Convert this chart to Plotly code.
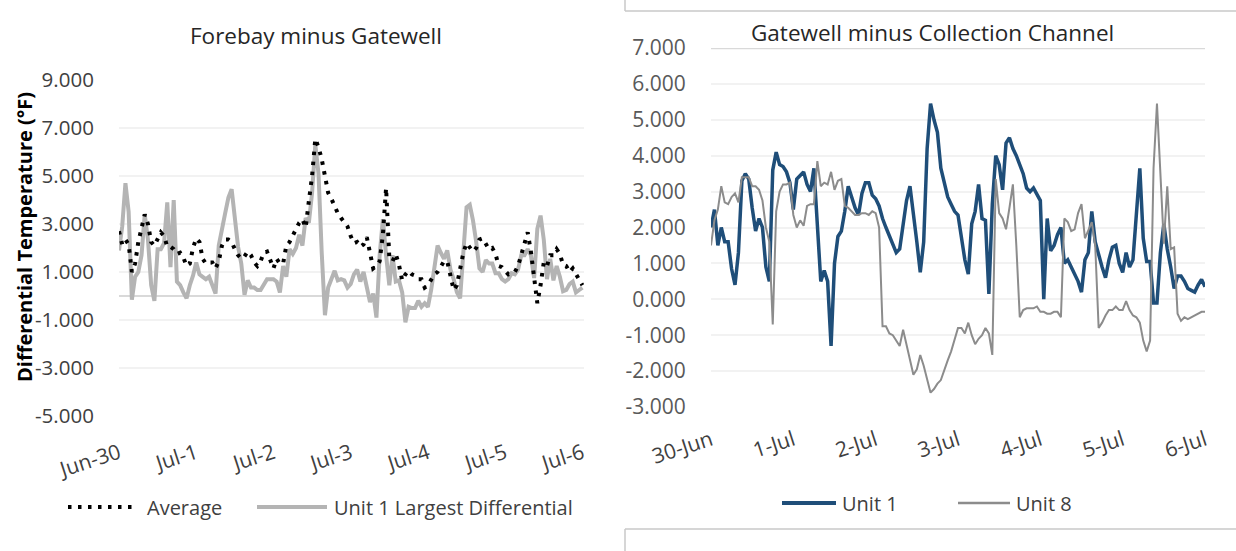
import pandas as pd
import plotly.graph_objects as go

# ---------------- data (hourly readings, 30-Jun 00:00 .. 6-Jul 00:00) ----------------
hours = pd.date_range("2019-06-30 00:00", periods=145, freq="h")

# Left chart: Forebay minus Gatewell
average = [2.7, 2.15, 2.35, 2.15, 1.0, 1.35, 2.25, 2.8, 3.4, 3.0,
           2.25, 2.1, 2.4, 2.65, 2.5, 2.05, 2.05, 1.95, 1.75, 1.8,
           1.6, 1.25, 1.35, 2.0, 2.4, 2.25, 1.55, 1.35, 1.4, 1.4,
           1.15, 1.45, 2.1, 2.35, 2.35, 2.25, 1.95, 1.7, 1.55, 1.65,
           1.85, 1.7, 1.4, 1.25, 1.45, 1.8, 1.85, 1.55, 1.15, 1.55,
           1.35, 1.35, 2.1, 2.25, 2.55, 2.8, 3.05, 3.2, 2.85, 3.95,
           5.0, 6.55, 6.2, 5.7, 4.9, 4.3, 4.05, 3.7, 3.45, 3.25,
           3.1, 2.9, 2.5, 2.2, 2.25, 2.05, 2.15, 2.45, 1.8, 1.15,
           1.25, 1.45, 2.55, 4.5, 1.6, 1.45, 1.75, 1.3, 0.65, 0.9,
           1.05, 0.9, 0.85, 0.7, 0.7, 0.35, 0.45, 0.65, 0.9, 1.0,
           1.25, 1.45, 1.45, 0.9, 0.25, 0.45, 1.15, 1.8, 2.2, 2.0,
           1.85, 2.0, 2.35, 2.4, 2.2, 1.95, 2.0, 1.75, 1.25, 1.2,
           1.05, 0.9, 0.95, 1.0, 1.25, 1.7, 2.25, 2.65, 1.85, 0.9,
           -0.3, 0.45, 1.4, 1.25, 1.7, 1.7, 1.95, 1.75, 1.3, 1.25,
           1.0, 1.15, 0.9, 0.7, 0.45]

unit1_largest = [1.9, 2.9, 4.7, 3.5, -0.15, 0.8, 1.0, 1.7, 3.4, 2.35,
                 0.45, -0.2, 1.95, 1.95, 2.2, 3.9, 1.2, 4.0, 0.6, 0.45,
                 0.15, -0.1, 0.45, 0.85, 1.4, 0.9, 0.8, 0.7, 0.8, 0.45,
                 0.1, 2.1, 2.9, 3.45, 4.1, 4.45, 3.25, 2.05, 1.35, 0.05,
                 0.65, 0.35, 0.35, 0.25, 0.25, 0.5, 0.7, 0.7, 0.7, 0.6,
                 0.15, 1.25, 0.8, 1.95, 1.75, 2.0, 2.55, 2.1, 3.25, 3.05,
                 4.3, 6.3, 5.1, 1.8, -0.8, 0.35, 0.65, 1.05, 0.65, 0.7,
                 0.65, 0.35, 0.5, 0.9, 1.1, 0.6, 1.0, 0.3, -0.25, 0.1,
                 -0.9, 1.7, 3.2, 1.7, 0.45, 1.7, 0.6, 0.65, 0.15, -1.1,
                 -0.45, -0.5, -0.5, -0.2, -0.45, -0.3, -0.45, 0.25, 1.2, 2.1,
                 1.8, 1.55, 1.9, 1.1, 0.7, 0.15, -0.1, 1.7, 3.7, 3.8,
                 3.15, 2.25, 1.15, 1.0, 1.5, 1.35, 1.35, 0.95, 0.95, 0.7,
                 0.6, 0.7, 0.95, 0.9, 1.1, 1.7, 1.7, 1.95, 1.7, 0.75,
                 2.8, 3.35, 2.35, 0.7, 1.55, 0.65, 1.25, 0.8, 0.2, 0.25,
                 0.5, 0.6, 0.15, 0.25, 0.35]

# Right chart: Gatewell minus Collection Channel
unit1 = [2.0, 2.5, 1.5, 2.0, 1.6, 1.6, 0.85, 0.4, 1.3, 3.3,
         3.5, 3.35, 2.55, 1.9, 2.25, 2.0, 0.9, 0.5, 3.6, 4.1,
         3.75, 3.7, 3.55, 3.25, 2.5, 3.35, 3.45, 3.55, 3.2, 3.0,
         3.65, 2.2, 0.5, 0.8, 0.5, -1.3, 1.0, 1.75, 1.9, 2.45,
         3.15, 2.85, 2.55, 2.35, 2.95, 3.25, 3.25, 2.9, 2.8, 2.6,
         2.25, 2.0, 1.75, 1.5, 1.3, 1.4, 2.0, 2.75, 3.15, 2.45,
         1.6, 0.75, 1.6, 4.2, 5.45, 5.0, 4.65, 3.65, 3.2, 2.85,
         2.65, 2.45, 2.35, 1.7, 1.1, 0.7, 2.1, 2.45, 3.2, 2.25,
         2.2, 0.15, 2.65, 4.0, 3.75, 3.05, 4.35, 4.5, 4.2, 4.0,
         3.75, 3.5, 3.1, 3.0, 3.1, 2.9, 2.75, 0.0, 2.25, 1.35,
         1.5, 1.8, 2.0, 1.0, 1.1, 0.9, 0.7, 0.5, 0.2, 1.1,
         1.3, 2.45, 1.6, 1.2, 0.9, 0.6, 1.1, 1.45, 1.5, 1.0,
         0.75, 1.3, 0.9, 1.1, 2.45, 3.65, 1.7, 1.05, 1.05, -0.1,
         -0.1, 1.3, 2.1, 1.4, 0.9, 0.3, 0.65, 0.65, 0.5, 0.3,
         0.25, 0.2, 0.4, 0.55, 0.35]

unit8 = [1.5, 2.2, 2.5, 3.15, 2.7, 2.65, 2.85, 2.95, 2.7, 3.4,
         3.4, 3.4, 3.15, 3.15, 3.05, 2.75, 2.0, 1.6, -0.7, 2.45,
         3.0, 3.2, 3.2, 3.25, 2.35, 2.0, 2.2, 2.05, 2.6, 2.65,
         2.65, 3.85, 3.15, 3.25, 3.2, 3.55, 3.05, 3.3, 3.35, 2.6,
         2.55, 2.45, 2.35, 2.35, 2.4, 2.4, 2.35, 2.45, 2.4, 2.0,
         -0.75, -0.75, -0.95, -1.0, -1.15, -1.3, -0.85, -1.3, -1.65, -2.1,
         -1.95, -1.55, -1.85, -2.2, -2.6, -2.5, -2.35, -2.25, -1.95, -1.7,
         -1.45, -1.1, -0.8, -0.8, -0.95, -0.65, -1.0, -1.25, -1.1, -1.0,
         -0.8, -0.95, -1.55, 3.35, 2.4, 2.25, 1.95, 2.55, 3.2, 1.5,
         -0.5, -0.3, -0.25, -0.25, -0.25, -0.2, -0.35, -0.35, -0.4, -0.4,
         -0.35, -0.35, -0.5, 2.25, 2.15, 1.9, 1.95, 2.4, 2.65, 1.7,
         1.95, 2.15, 1.5, -0.8, -0.65, -0.45, -0.3, -0.3, -0.2, -0.3,
         -0.3, -0.05, -0.3, -0.45, -0.5, -0.65, -1.15, -1.45, -1.15, 3.65,
         5.45, 3.65, 1.55, 3.15, 1.4, 1.45, -0.4, -0.6, -0.5, -0.55,
         -0.5, -0.45, -0.4, -0.35, -0.35]

left_yticks = [-5, -3, -1, 1, 3, 5, 7, 9]
left_yticklabels = ["-5.000", "-3.000", "-1.000", "1.000", "3.000", "5.000", "7.000", "9.000"]
right_yticks = [-3, -2, -1, 0, 1, 2, 3, 4, 5, 6, 7]
right_yticklabels = ["-3.000", "-2.000", "-1.000", "0.000", "1.000", "2.000", "3.000",
                     "4.000", "5.000", "6.000", "7.000"]

# ---------------- styling ----------------
W, H = 1236, 551
FONT = "Open Sans"
LGRAY = "#b4b4b4"
DGRAY = "#8c8c8c"
BLUE = "#1f4e79"
DOT = "3.5px,6.5px"


def px(x):
    return x / W


def py(y):
    return 1 - y / H


fig = go.Figure()

fig.add_trace(go.Scatter(x=hours, y=unit1_largest, mode="lines", name="Unit 1 Largest Differential",
                         line=dict(color=LGRAY, width=4), xaxis="x", yaxis="y"))
fig.add_trace(go.Scatter(x=hours, y=average, mode="lines", name="Average",
                         line=dict(color="#000000", width=4, dash=DOT), xaxis="x", yaxis="y"))
fig.add_trace(go.Scatter(x=hours, y=unit1, mode="lines", name="Unit 1",
                         line=dict(color=BLUE, width=3.5), xaxis="x2", yaxis="y2"))
fig.add_trace(go.Scatter(x=hours, y=unit8, mode="lines", name="Unit 8",
                         line=dict(color=DGRAY, width=2), xaxis="x2", yaxis="y2"))

common_x = dict(type="date", dtick=86400000, showgrid=False, zeroline=False, showline=False,
                ticks="outside", tickcolor="rgba(0,0,0,0)", tickangle=-18,
                automargin=False, tickfont=dict(family=FONT, size=21, color="#404040"))

fig.update_layout(
    width=W, height=H, margin=dict(l=0, r=0, t=0, b=0),
    paper_bgcolor="white", plot_bgcolor="white", showlegend=False,
    font=dict(family=FONT),
    xaxis=dict(domain=[px(119), px(584)], anchor="y", ticklen=16,
               range=["2019-06-30 00:00", "2019-07-06 00:30"], tick0="2019-06-30",
               tickformat="%b-%-d", **common_x),
    yaxis=dict(domain=[py(416), py(80)], anchor="x", range=[-5, 9],
               tickvals=left_yticks, ticktext=left_yticklabels,
               showgrid=True, gridcolor="#f2f2f2", gridwidth=2,
               zeroline=True, zerolinecolor="#d9d9d9", zerolinewidth=2,
               ticks="outside", ticklen=20, tickcolor="rgba(0,0,0,0)", automargin=False,
               tickfont=dict(family=FONT, size=20.5, color="#404040")),
    xaxis2=dict(domain=[px(711), px(1205)], anchor="y2", ticklen=12,
                range=["2019-06-30 00:00", "2019-07-06 00:00"], tick0="2019-06-30",
                tickformat="%-d-%b", **common_x),
    yaxis2=dict(domain=[py(407), py(48)], anchor="x2", range=[-3, 7],
                tickvals=right_yticks, ticktext=right_yticklabels,
                showgrid=True, gridcolor="#f2f2f2", gridwidth=2, zeroline=False,
                ticks="outside", ticklen=20, tickcolor="rgba(0,0,0,0)", automargin=False,
                tickfont=dict(family=FONT, size=21, color="#595959")),
)

shapes = [
    # darker top gridline on right chart
    dict(type="line", xref="x2 domain", yref="y2", x0=0, x1=1, y0=7, y1=7,
         line=dict(color="#d9d9d9", width=2.5)),
    # panel frame fragments on the right
    dict(type="line", xref="paper", yref="paper", x0=px(625), x1=px(625), y0=1, y1=py(11),
         line=dict(color="#c8c8c8", width=1.5)),
    dict(type="line", xref="paper", yref="paper", x0=px(625), x1=1, y0=py(11), y1=py(11),
         line=dict(color="#c8c8c8", width=1.5)),
    dict(type="line", xref="paper", yref="paper", x0=px(625), x1=1, y0=py(529), y1=py(529),
         line=dict(color="#c8c8c8", width=1.5)),
    dict(type="line", xref="paper", yref="paper", x0=px(625), x1=px(625), y0=py(529), y1=0,
         line=dict(color="#c8c8c8", width=1.5)),
    # legend samples
    dict(type="line", xref="paper", yref="paper", x0=px(68), x1=px(136), y0=py(507), y1=py(507),
         line=dict(color="#000000", width=4, dash=DOT)),
    dict(type="line", xref="paper", yref="paper", x0=px(257), x1=px(327), y0=py(507), y1=py(507),
         line=dict(color=LGRAY, width=4)),
    dict(type="line", xref="paper", yref="paper", x0=px(782), x1=px(836), y0=py(503), y1=py(503),
         line=dict(color=BLUE, width=4)),
    dict(type="line", xref="paper", yref="paper", x0=px(958), x1=px(1010), y0=py(503), y1=py(503),
         line=dict(color=DGRAY, width=2.5)),
]
fig.update_layout(shapes=shapes)

ann = [
    dict(text="Forebay minus Gatewell", x=px(316), y=py(35), font=dict(size=22.5, color="#262626")),
    dict(text="Gatewell minus Collection Channel", x=px(932), y=py(33), font=dict(size=22.5, color="#262626")),
    dict(text="<b>Differential Temperature (°F)</b>", x=px(24), y=py(237), textangle=-90,
         font=dict(size=20, color="#000000")),
    dict(text="Average", x=px(145), y=py(507), xanchor="left", font=dict(size=20, color="#404040")),
    dict(text="Unit 1 Largest Differential", x=px(332), y=py(507), xanchor="left",
         font=dict(size=20, color="#404040")),
    dict(text="Unit 1", x=px(840), y=py(503), xanchor="left", font=dict(size=20, color="#404040")),
    dict(text="Unit 8", x=px(1014), y=py(503), xanchor="left", font=dict(size=20, color="#404040")),
]
for a in ann:
    a.setdefault("xanchor", "center")
    a.update(xref="paper", yref="paper", yanchor="middle", showarrow=False)
    a["font"]["family"] = FONT
fig.update_layout(annotations=ann)

fig.write_html("out.html", config={"displayModeBar": False},
               post_script="document.body.style.margin='0';document.body.style.overflow='hidden';")
